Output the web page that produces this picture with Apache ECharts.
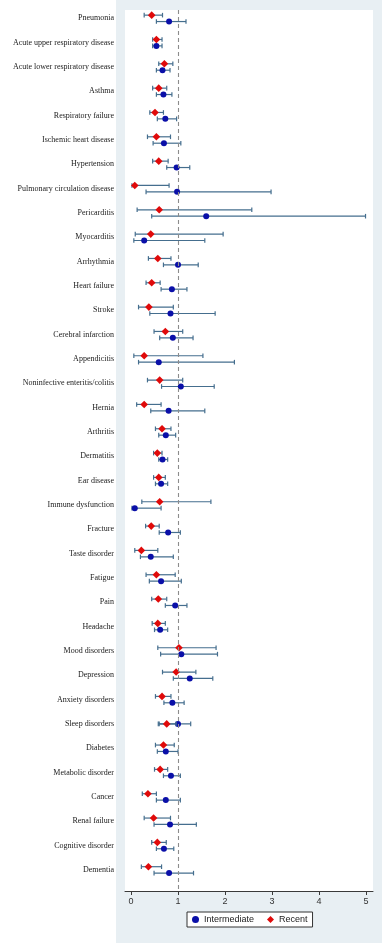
<!DOCTYPE html>
<html><head><meta charset="utf-8">
<script src="https://cdn.jsdelivr.net/npm/echarts@6/dist/echarts.min.js"></script>
<style>
html,body{margin:0;padding:0;background:#fff;}
#bg{position:absolute;left:116px;top:0;width:266px;height:943px;background:#e8eff3;}
#c{position:absolute;left:0;top:0;width:382px;height:943px;}
</style>
</head><body><div id="bg"></div><div id="c"></div>
<script>
const categories = [
  'Pneumonia','Acute upper respiratory disease','Acute lower respiratory disease','Asthma',
  'Respiratory failure','Ischemic heart disease','Hypertension','Pulmonary circulation disease',
  'Pericarditis','Myocarditis','Arrhythmia','Heart failure','Stroke','Cerebral infarction',
  'Appendicitis','Noninfective enteritis/colitis','Hernia','Arthritis','Dermatitis','Ear disease',
  'Immune dysfunction','Fracture','Taste disorder','Fatigue','Pain','Headache','Mood disorders',
  'Depression','Anxiety disorders','Sleep disorders','Diabetes','Metabolic disorder','Cancer',
  'Renal failure','Cognitive disorder','Dementia'
];
const recentEst = [0.44,0.54,0.71,0.59,0.51,0.54,0.59,0.08,0.60,0.42,0.57,0.44,0.38,0.73,0.28,0.61,0.28,0.66,0.56,0.59,0.61,0.43,0.22,0.54,0.58,0.57,1.02,0.96,0.66,0.76,0.69,0.62,0.36,0.48,0.56,0.37];
const recentLo  = [0.28,0.46,0.59,0.46,0.40,0.35,0.46,0.02,0.13,0.09,0.37,0.32,0.16,0.49,0.06,0.35,0.12,0.52,0.48,0.48,0.23,0.31,0.08,0.32,0.44,0.45,0.57,0.67,0.52,0.60,0.52,0.50,0.24,0.28,0.44,0.22];
const recentHi  = [0.67,0.66,0.89,0.76,0.69,0.84,0.79,0.81,2.57,1.96,0.85,0.62,0.90,1.10,1.53,1.10,0.64,0.85,0.66,0.73,1.70,0.60,0.57,0.94,0.76,0.73,1.81,1.38,0.85,0.96,0.92,0.78,0.54,0.84,0.75,0.65];
const interEst  = [0.81,0.54,0.67,0.69,0.73,0.70,0.97,0.98,1.60,0.28,1.00,0.87,0.84,0.89,0.59,1.06,0.80,0.74,0.67,0.64,0.08,0.79,0.42,0.64,0.94,0.62,1.07,1.25,0.88,1.00,0.74,0.85,0.74,0.83,0.70,0.81];
const interLo   = [0.54,0.46,0.54,0.54,0.56,0.47,0.76,0.32,0.44,0.06,0.69,0.64,0.40,0.61,0.16,0.65,0.42,0.59,0.59,0.52,0.02,0.60,0.20,0.39,0.73,0.50,0.63,0.90,0.70,0.58,0.56,0.69,0.54,0.49,0.54,0.49];
const interHi   = [1.17,0.66,0.83,0.87,0.97,1.06,1.25,2.98,4.99,1.57,1.43,1.19,1.79,1.32,2.20,1.77,1.57,0.95,0.78,0.78,0.64,1.05,0.90,1.07,1.19,0.78,1.84,1.74,1.13,1.27,1.00,1.05,1.05,1.39,0.91,1.33];
const xTicks = [0,1,2,3,4,5];
const refValue = 1;
const sharedRows = ['Sleep disorders'];

const RED = '#e00a0a', BLUE = '#0a0fa8', BAR = '#456e8e';

function rows(est, lo, hi){ return categories.map((c,i)=>[i, est[i], lo[i], hi[i]]); }

function makeRender(dy, kind, color){
  return function(params, api){
    const i = api.value(0);
    const off = sharedRows.indexOf(categories[i]) >= 0 ? 0 : dy;
    const p = api.coord([api.value(1), i]);
    const a = api.coord([api.value(2), i]);
    const b = api.coord([api.value(3), i]);
    const y = p[1] + off;
    const cap = 2.3;
    const ls = {stroke: BAR, lineWidth: 1.2};
    const ch = [
      {type:'line', shape:{x1:a[0], y1:y, x2:b[0], y2:y}, style:ls},
      {type:'line', shape:{x1:a[0], y1:y-cap, x2:a[0], y2:y+cap}, style:ls},
      {type:'line', shape:{x1:b[0], y1:y-cap, x2:b[0], y2:y+cap}, style:ls}
    ];
    if (kind === 'circle') {
      ch.push({type:'circle', shape:{cx:p[0], cy:y, r:3}, style:{fill:color}});
    } else {
      const r = 3.8;
      ch.push({type:'polygon', shape:{points:[[p[0],y-r],[p[0]+r,y],[p[0],y+r],[p[0]-r,y]]}, style:{fill:color}});
    }
    return {type:'group', children: ch};
  };
}

const chart = echarts.init(document.getElementById('c'), null, {renderer:'canvas'});
chart.setOption({
  backgroundColor: 'transparent',
  animation: false,
  grid: {left:125, right:9, top:10, bottom:52, show:true, backgroundColor:'#fff', borderWidth:0},
  xAxis: {
    type:'value', min:-0.128, max:5.149, position:'bottom',
    axisLine:{show:true, onZero:false, lineStyle:{color:'#3a3a3a', width:1}},
    axisTick:{show:true, customValues:xTicks, length:4, lineStyle:{color:'#3a3a3a'}},
    axisLabel:{customValues:xTicks, fontFamily:'Liberation Sans', fontSize:9, color:'#333', margin:6},
    splitLine:{show:false}
  },
  yAxis: {
    type:'value', inverse:true, min:-0.343, max:35.867, position:'left',
    axisLine:{show:false, onZero:false}, axisTick:{show:false}, splitLine:{show:false},
    axisLabel:{customValues:categories.map((c,i)=>i), formatter:(v)=>categories[Math.round(v)],
      fontFamily:'Liberation Serif', fontSize:8, color:'#1a1a1a', margin:11}
  },
  legend: {
    left:187, top:912, orient:'horizontal',
    padding:[3,5,3,5], borderColor:'#333', borderWidth:1, borderRadius:0, backgroundColor:'#fff',
    itemWidth:7, itemHeight:7, itemGap:13,
    textStyle:{fontFamily:'Liberation Sans', fontSize:9, color:'#222'},
    data:[{name:'Intermediate', icon:'circle', itemStyle:{color:BLUE}},
          {name:'Recent', icon:'diamond', itemStyle:{color:RED}}]
  },
  series: [
    {
      name:'Intermediate', type:'custom', itemStyle:{color:BLUE},
      renderItem: makeRender(3.2, 'circle', BLUE),
      encode:{x:[1,2,3], y:0},
      data: rows(interEst, interLo, interHi),
      markLine:{silent:true, symbol:'none', label:{show:false},
        lineStyle:{type:[4,3], color:'#8c8c8c', width:1.1},
        data:[{xAxis:refValue}]},
      z:3
    },
    {
      name:'Recent', type:'custom', itemStyle:{color:RED},
      renderItem: makeRender(-3.2, 'diamond', RED),
      encode:{x:[1,2,3], y:0},
      data: rows(recentEst, recentLo, recentHi),
      z:4
    }
  ]
});
</script>
</body></html>
